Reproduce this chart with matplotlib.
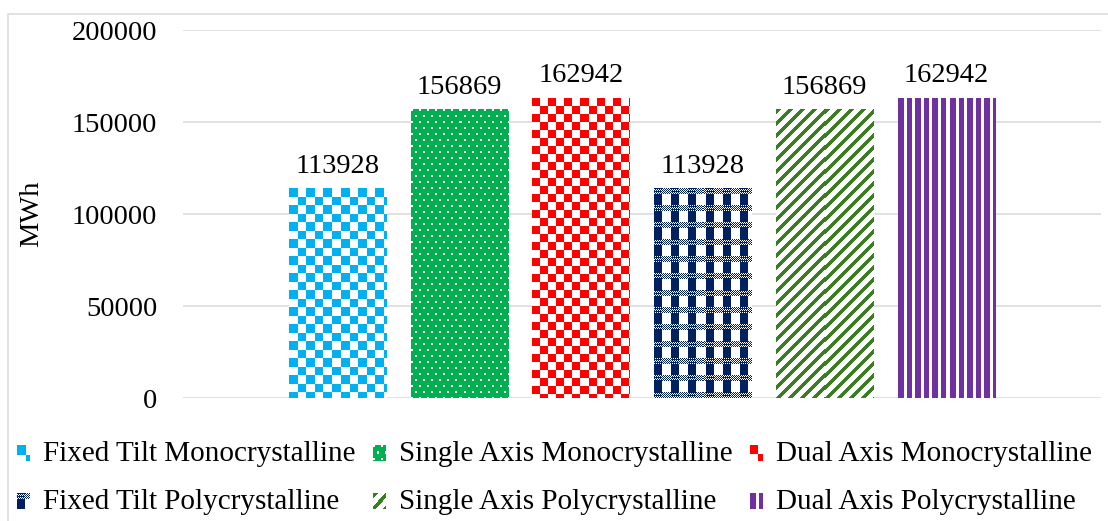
import numpy as np
import matplotlib
matplotlib.use('Agg')
import matplotlib.pyplot as plt
from matplotlib.patches import Rectangle
from matplotlib.image import BboxImage
from matplotlib.transforms import Bbox, TransformedBbox
from matplotlib.legend_handler import HandlerBase
from matplotlib.colors import to_rgb

plt.rcParams['font.family'] = ['Liberation Serif', 'DejaVu Serif']

# Annual energy yield per PV configuration
series = ['Fixed Tilt Monocrystalline', 'Single Axis Monocrystalline',
          'Dual Axis Monocrystalline', 'Fixed Tilt Polycrystalline',
          'Single Axis Polycrystalline', 'Dual Axis Polycrystalline']
energy = [113928, 156869, 162942, 113928, 156869, 162942]
colors = ['#00B0F0', '#00B050', '#FF0000', '#002060', '#3A7D22', '#7030A0']
fills = ['checker', 'dots', 'checker_small', 'plaid', 'diag', 'vstripe']
yticks = [0, 50000, 100000, 150000, 200000]

FS = 20.5
DPI = 100


def texture(kind, color, h, w):
    """Pattern fill as an RGB array, one element per screen pixel."""
    r, c = np.mgrid[0:h, 0:w]
    if kind == 'checker':
        mask = (np.floor(r / 8.5) + np.floor(c / 8.5)) % 2 == 0
    elif kind == 'checker_small':
        mask = (r // 8 + c // 8) % 2 == 0
    elif kind == 'dots':
        dot = ((r % 12 < 2) & (c % 8 < 2)) | (((r - 6) % 12 < 2) & ((c - 4) % 8 < 2))
        mask = ~dot
    elif kind == 'plaid':
        band = (r % 17) < 6
        mask = np.where(band, ((r + c) % 2 == 0) | ((c % 17 < 8) & (r % 3 == 0)),
                        (c % 17) < 8)
    elif kind == 'diag':
        mask = (r + c) % 12 < 5
    else:
        mask = (c % 8.5) < 5.3
    img = np.ones((h, w, 3))
    img[mask] = to_rgb(color)
    return img


class PatternHandler(HandlerBase):
    def __init__(self, kind, color):
        super().__init__()
        self.kind = kind
        self.color = color

    def legend_artist(self, legend, orig_handle, fontsize, handlebox):
        w, h = handlebox.width, handlebox.height
        bb = TransformedBbox(Bbox.from_bounds(0, 0, w, h), handlebox.get_transform())
        img = BboxImage(bb, interpolation='nearest')
        img.set_data(texture(self.kind, self.color,
                             max(int(round(h * DPI / 72)), 1),
                             max(int(round(w * DPI / 72)), 1)))
        handlebox.add_artist(img)
        return img


fig = plt.figure(figsize=(11.08, 5.21), dpi=DPI)
ax = fig.add_axes([183 / 1108, 123 / 521, 918 / 1108, 368 / 521])

x = np.arange(len(energy))
bars = ax.bar(x, energy, width=0.8, color='none', zorder=2)
xlim = (-1.27, 6.27)
ax.set_xlim(*xlim)
ax.set_ylim(0, 200000)

# paint each bar with its pattern
for bar, kind, col in zip(bars, fills, colors):
    x0, y0 = bar.get_x(), bar.get_y()
    x1, y1 = x0 + bar.get_width(), y0 + bar.get_height()
    (px0, py0), (px1, py1) = ax.transData.transform([(x0, y0), (x1, y1)])
    h = int(round(py1 - py0))
    w = int(round(px1 - px0))
    ax.imshow(texture(kind, col, h, w), extent=(x0, x1, y0, y1),
              aspect='auto', interpolation='nearest', zorder=2)
ax.set_xlim(*xlim)
ax.set_ylim(0, 200000)

for xi, v in zip(x, energy):
    ax.annotate(f'{v}', (xi, v), xytext=(0, 7), textcoords='offset points',
                ha='center', va='bottom', fontsize=FS)

ax.set_yticks(yticks)
ax.yaxis.set_major_formatter(lambda v, p: f'{int(v)}')
ax.set_xticks([])
ax.tick_params(axis='y', length=0, pad=18.5, labelsize=FS)
ax.grid(axis='y', color='#D9D9D9', lw=1.1)
ax.set_axisbelow(True)
for s in ax.spines.values():
    s.set_visible(False)
ax.set_ylabel('MWh', fontsize=FS)
ax.yaxis.set_label_coords(-0.151, 0.5)

# legend fills column by column, so reorder to read across rows
order = [0, 3, 1, 4, 2, 5]
handler_map = {b: PatternHandler(k, c) for b, k, c in zip(bars, fills, colors)}
fig.legend([bars[i] for i in order], [series[i] for i in order],
           handler_map=handler_map, ncol=3,
           loc='center', bbox_to_anchor=(0.5005, 0.083), frameon=False,
           fontsize=21, handlelength=0.43, handleheight=0.43,
           handletextpad=0.45, columnspacing=0.6, labelspacing=0.75,
           borderpad=0)

# chart area border
fig.add_artist(Rectangle((7.5 / 1108, -0.1), 1.2, (521 - 13.5) / 521 + 0.1,
                         transform=fig.transFigure, fill=False,
                         edgecolor='#D9D9D9', lw=1.1))

fig.savefig('out.png', dpi=DPI)
